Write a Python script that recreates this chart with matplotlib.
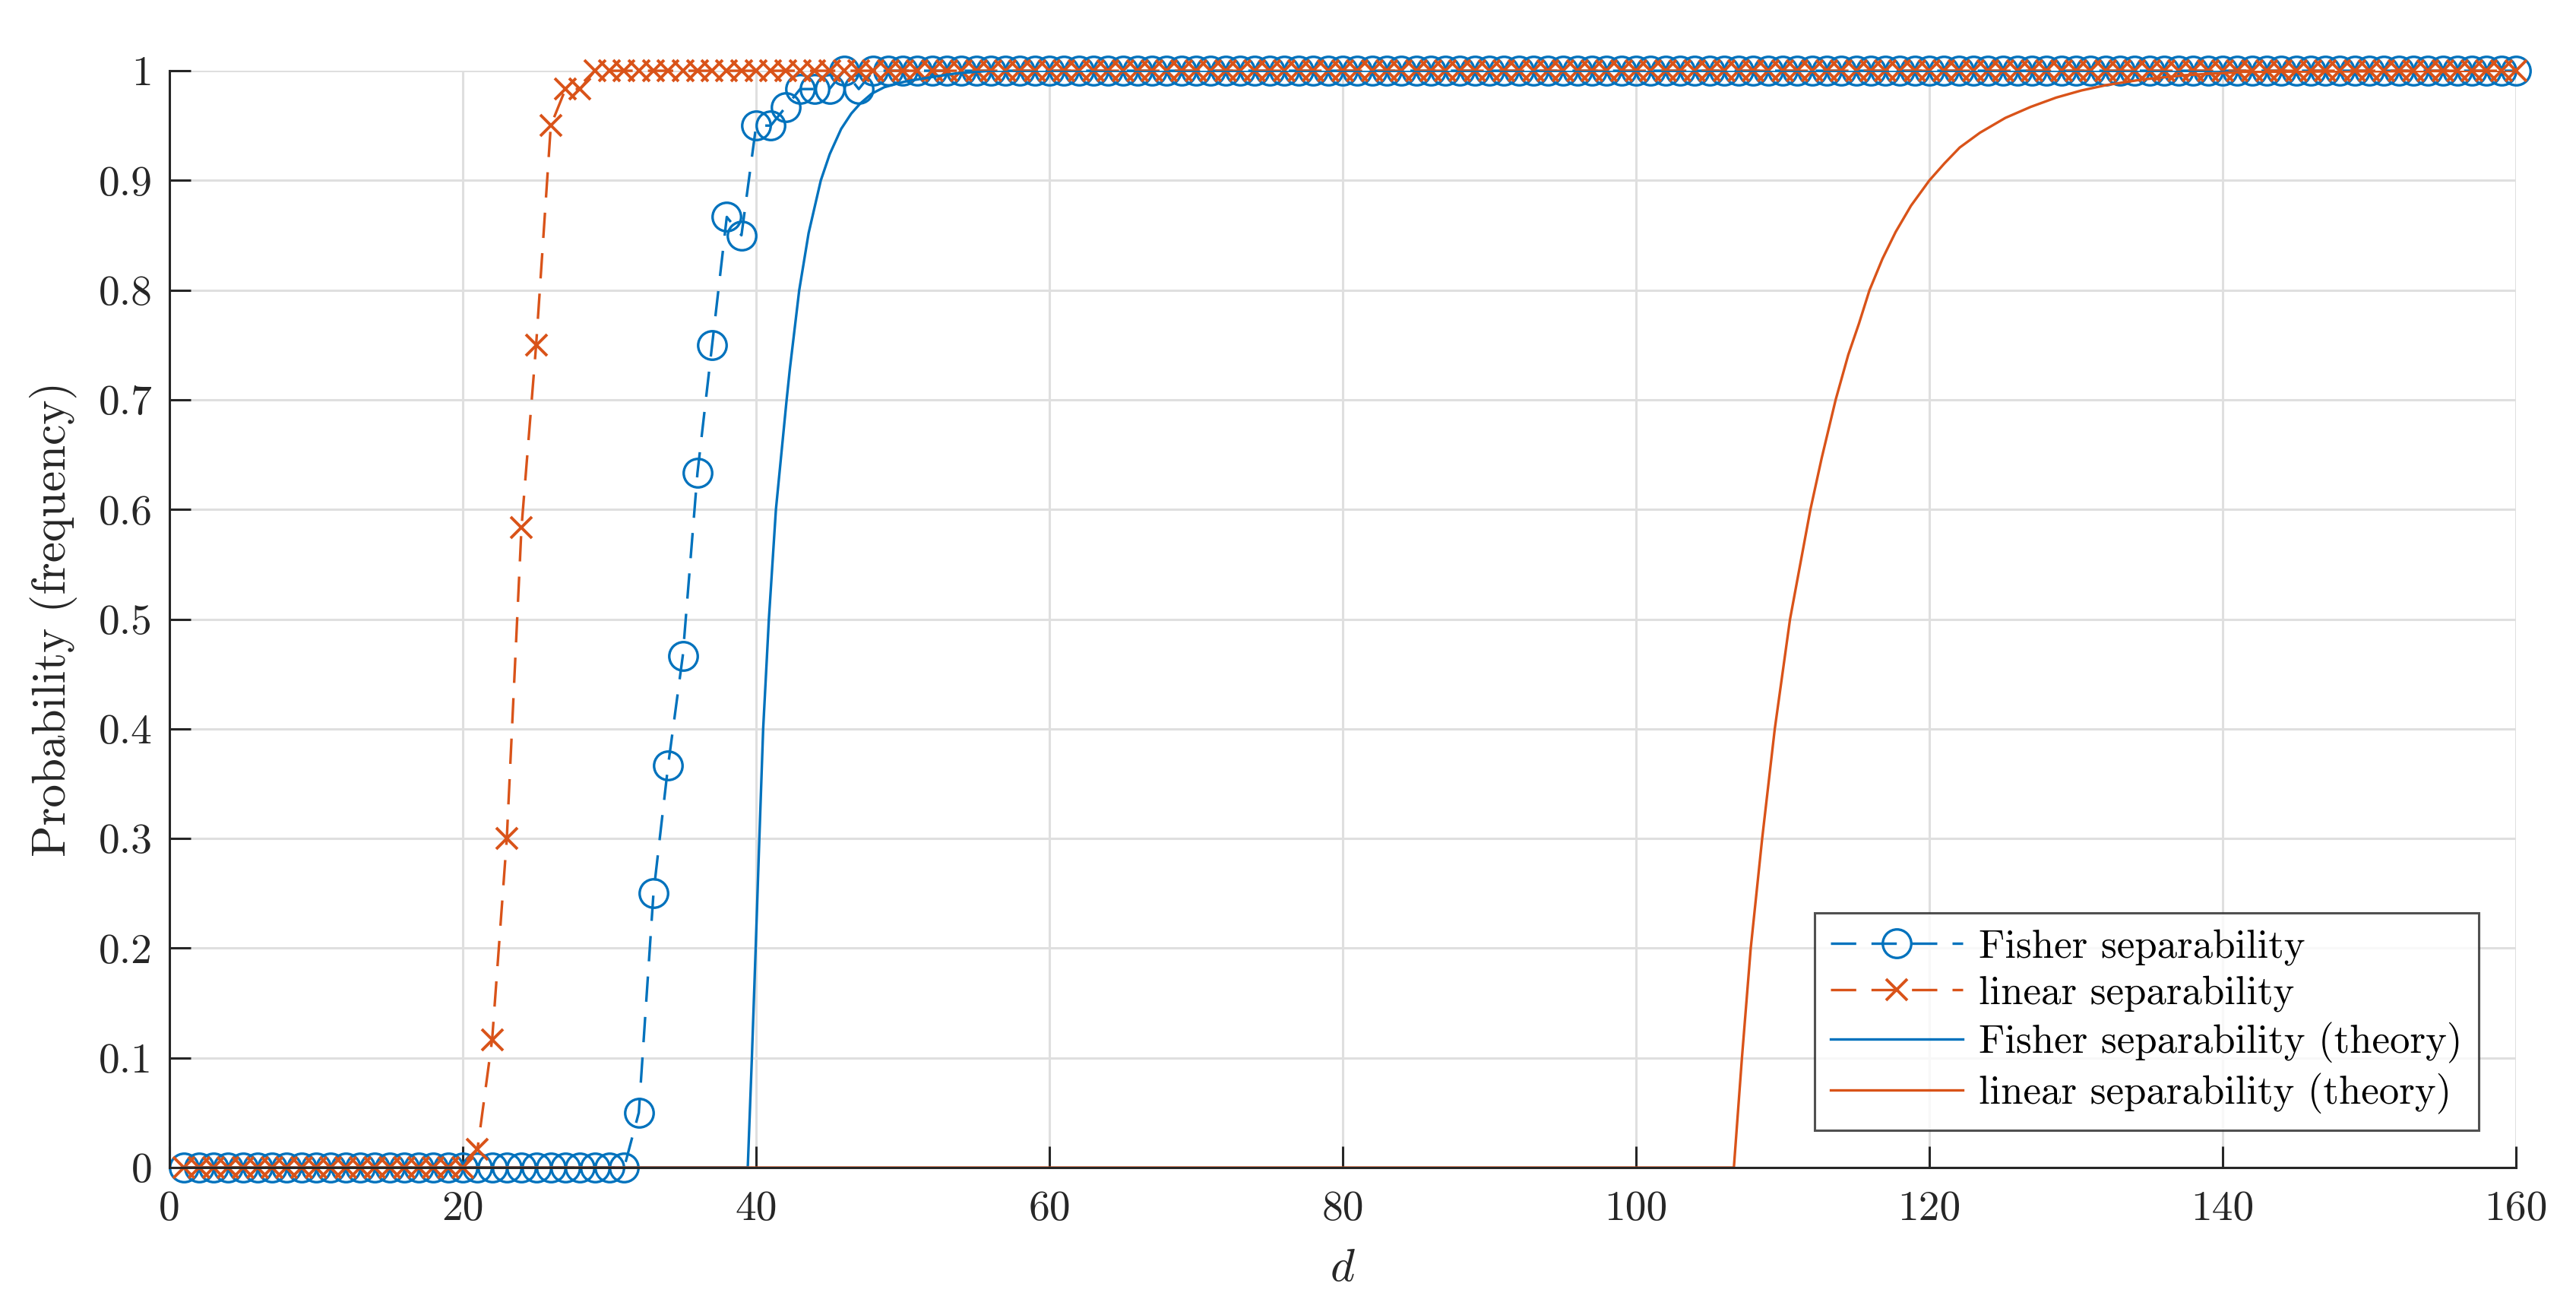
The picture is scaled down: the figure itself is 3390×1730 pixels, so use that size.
import numpy as np
import matplotlib
matplotlib.use("Agg")
import matplotlib.pyplot as plt

plt.rcParams['font.family'] = 'cmr10'
plt.rcParams['mathtext.fontset'] = 'cm'
plt.rcParams['axes.formatter.use_mathtext'] = True

# empirical frequencies, one value per dimension d = 1..160
d = np.arange(1, 161)
fisher_emp = ([0.0] * 31 +
              [0.05, 0.25, 0.3667, 0.4667, 0.6333, 0.75, 0.8667, 0.85,
               0.95, 0.95, 0.9667, 0.9833, 0.9833, 0.9833, 1.0, 0.9833] +
              [1.0] * 113)
linear_emp = ([0.0] * 20 +
              [0.0167, 0.1167, 0.3, 0.5833, 0.75, 0.95, 0.9833, 0.9833] +
              [1.0] * 132)

# theoretical curves
fisher_th_d = [1, 39.43, 39.71, 39.97, 40.22, 40.48, 40.87, 41.35, 42.08, 42.30,
               42.94, 43.58, 44.41, 45.02, 45.8, 46.49, 47.09, 47.87, 48.74,
               50.1, 51.85, 53.6, 56.0, 160]
fisher_th_p = [0, 0, 0.1, 0.2, 0.3, 0.4, 0.5, 0.6, 0.7, 0.728,
               0.8, 0.852, 0.9, 0.924, 0.947, 0.961, 0.97, 0.979, 0.985,
               0.99, 0.994, 0.9975, 1.0, 1.0]
linear_th_d = [1, 106.67, 107.22, 107.82, 108.6, 109.46, 110.5, 111.89, 112.66,
               113.61, 114.47, 115.2, 115.92, 116.8, 117.7, 118.75, 120,
               121.04, 122.07, 123.45, 125.18, 126.9, 128.64, 130.36, 132.09,
               134.5, 137.5, 141.4, 160]
linear_th_p = [0, 0, 0.1, 0.2, 0.3, 0.4, 0.5, 0.6, 0.647,
               0.7, 0.741, 0.7695, 0.8, 0.8285, 0.853, 0.877, 0.9,
               0.9157, 0.93, 0.9435, 0.957, 0.967, 0.9755, 0.982, 0.987,
               0.992, 0.996, 0.999, 1.0]

yticks = [0, 0.1, 0.2, 0.3, 0.4, 0.5, 0.6, 0.7, 0.8, 0.9, 1]
ytick_labels = ['0', '0.1', '0.2', '0.3', '0.4', '0.5', '0.6', '0.7', '0.8', '0.9', '1']
xticks = [0, 20, 40, 60, 80, 100, 120, 140, 160]

blue = '#0072BD'
orange = '#D95319'

fig = plt.figure(figsize=(16.95, 8.65), dpi=200)
ax = fig.add_axes([0.0658, 0.1121, 0.9109, 0.8341])

ax.plot(d, fisher_emp, '--o', color=blue, lw=1.2, ms=13.5, mew=1.2,
        mfc='none', dashes=(10, 6), clip_on=False, label='Fisher separability')
ax.plot(d, linear_emp, '--x', color=orange, lw=1.2, ms=10, mew=1.4,
        dashes=(10, 6), clip_on=False, label='linear separability')
ax.plot(fisher_th_d, fisher_th_p, '-', color=blue, lw=1.2,
        label='Fisher separability (theory)')
ax.plot(linear_th_d, linear_th_p, '-', color=orange, lw=1.2,
        label='linear separability (theory)')

ax.set_xlim(0, 160)
ax.set_ylim(0, 1)
ax.set_xticks(xticks)
ax.set_xticklabels([str(t) for t in xticks])
ax.set_yticks(yticks)
ax.set_yticklabels(ytick_labels)
ax.grid(True, color='#dfdfdf', lw=1.1)
ax.set_axisbelow(True)
for s in ['top', 'right']:
    ax.spines[s].set_visible(False)
for s in ['left', 'bottom']:
    ax.spines[s].set_color('#262626')
    ax.spines[s].set_linewidth(1.1)
ax.tick_params(direction='in', length=10, width=1.1, color='#262626',
               labelsize=20, labelcolor='#262626', pad=8)
ax.tick_params(axis='x', pad=11)

ax.set_xlabel(r'$d$', fontsize=22, color='#262626', labelpad=9)
ax.set_ylabel('Probability (frequency)', fontsize=22, color='#262626', labelpad=10)

leg = ax.legend(loc='lower right', bbox_to_anchor=(0.984, 0.034), borderaxespad=0,
                fontsize=19, frameon=True, fancybox=False, edgecolor='#262626',
                handlelength=3.3, handletextpad=0.4, borderpad=0.4, labelspacing=0.25)
leg.get_frame().set_linewidth(1.1)

fig.savefig('out.png', dpi=200)
